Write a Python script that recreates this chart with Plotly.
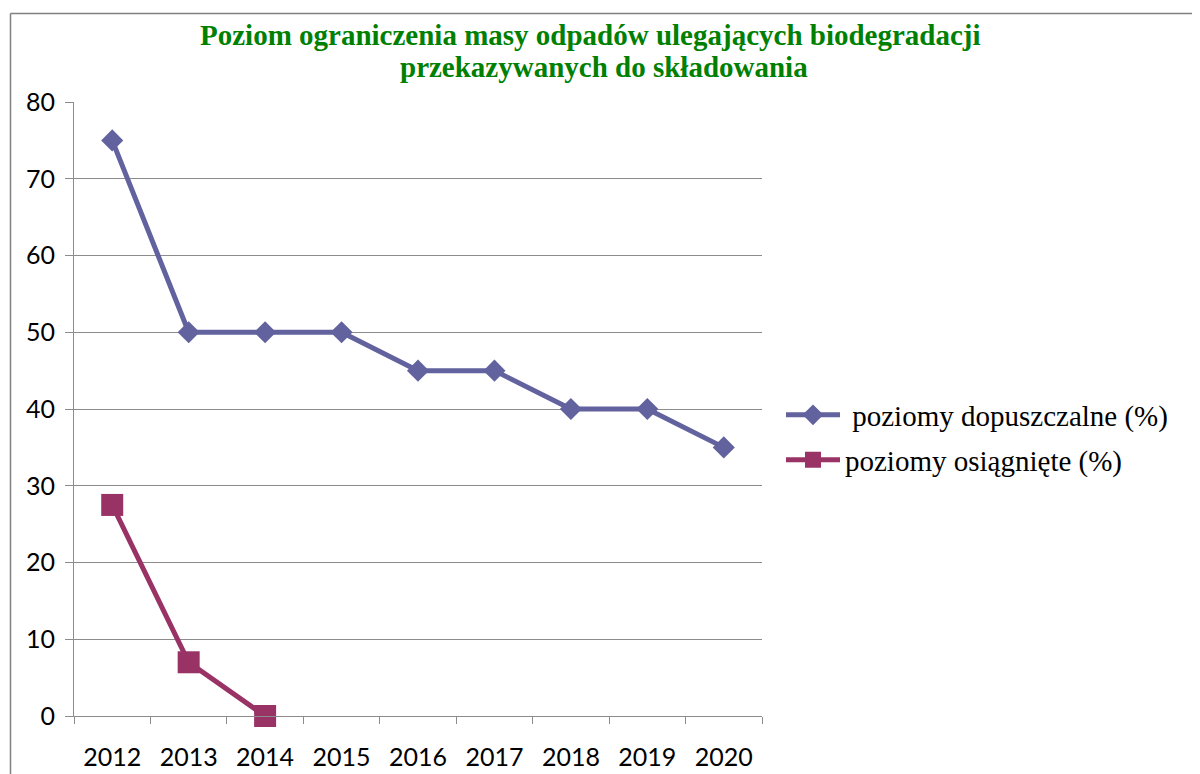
import plotly.graph_objects as go

years = ["2012", "2013", "2014", "2015", "2016", "2017", "2018", "2019", "2020"]
dopuszczalne = [75, 50, 50, 50, 45, 45, 40, 40, 35]
osiagniete_years = ["2012", "2013", "2014"]
osiagniete = [27.5, 7, 0]

title_line1 = "Poziom ograniczenia masy odpadów ulegających biodegradacji"
title_line2 = "przekazywanych do składowania"
name1 = " poziomy dopuszczalne (%)"
name2 = "poziomy osiągnięte (%)"
y_ticks = [0, 10, 20, 30, 40, 50, 60, 70, 80]

W, H = 1200, 774
OFF = 8  # page body margin
L, R, T, B = 74 - OFF, 762 - OFF, 102 - OFF, 716 - OFF


def px(x):
    return (x - OFF - L) / (R - L)


def py(y):
    return (B - (y - OFF)) / (B - T)


blue = "#62629e"
plum = "#993366"
grid = "#8c8c8c"

fig = go.Figure()
fig.add_trace(go.Scatter(
    x=years, y=dopuszczalne, name=name1, mode="lines+markers",
    line=dict(color=blue, width=5),
    marker=dict(symbol="diamond", size=17, color=blue),
    legend="legend", cliponaxis=False,
))
fig.add_trace(go.Scatter(
    x=osiagniete_years, y=osiagniete, name=name2, mode="lines+markers",
    line=dict(color=plum, width=5),
    marker=dict(symbol="square", size=22, color=plum),
    legend="legend2", cliponaxis=False,
))

legend_common = dict(
    font=dict(family="Liberation Serif", size=29, color="black"),
    bgcolor="rgba(0,0,0,0)", itemwidth=54, xref="container", yref="container",
    xanchor="left", yanchor="middle", borderwidth=0,
)

fig.update_layout(
    width=W, height=H,
    margin=dict(l=L, r=W - R, t=T, b=H - B),
    paper_bgcolor="white", plot_bgcolor="white",
    showlegend=True,
    legend=dict(x=(781 - OFF) / W, y=1 - (418 - OFF - 3) / H, **legend_common),
    legend2=dict(x=(781 - OFF) / W, y=1 - (463 - OFF - 3) / H, **legend_common),
    xaxis=dict(
        type="category", categoryorder="array", categoryarray=years,
        range=[-0.5, len(years) - 0.5],
        tickson="boundaries", ticks="outside", ticklen=7, tickcolor=grid,
        tickwidth=1, showline=True, linecolor=grid, linewidth=1,
        showgrid=False, zeroline=False,
        tickfont=dict(family="Lato", size=25, color="black"),
        ticklabelstandoff=19,
    ),
    yaxis=dict(
        range=[0, 80], tickvals=y_ticks, ticks="outside", ticklen=8,
        tickcolor=grid, tickwidth=1, showline=True, linecolor=grid,
        linewidth=1, showgrid=True, gridcolor=grid, gridwidth=1,
        zeroline=False,
        tickfont=dict(family="Lato", size=25, color="black"),
        ticklabelstandoff=5,
    ),
    shapes=[
        dict(type="line", xref="paper", yref="paper",
             x0=px(10.5), x1=px(10.5), y0=py(13.5), y1=py(800),
             line=dict(color="#808080", width=1.5)),
        dict(type="line", xref="paper", yref="paper",
             x0=px(10.5), x1=px(1250), y0=py(13.5), y1=py(13.5),
             line=dict(color="#808080", width=1.5)),
    ],
    annotations=[
        dict(text="<b>" + title_line1 + "</b>", xref="paper", yref="paper",
             x=px(590), y=py(35), xanchor="center", yanchor="middle",
             showarrow=False,
             font=dict(family="Liberation Serif", size=29, color="#008000")),
        dict(text="<b>" + title_line2 + "</b>", xref="paper", yref="paper",
             x=px(604), y=py(67), xanchor="center", yanchor="middle",
             showarrow=False,
             font=dict(family="Liberation Serif", size=29, color="#008000")),
    ],
)

fig.write_html("out.html")
